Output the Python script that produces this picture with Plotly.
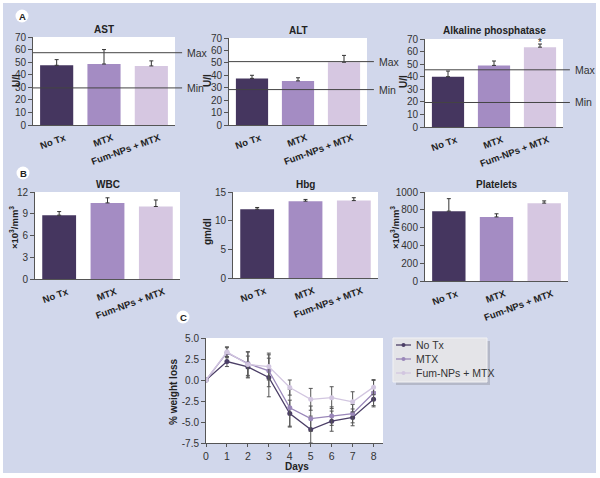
import plotly.graph_objects as go

W, H = 600, 478

groups = ["No Tx", "MTX", "Fum-NPs + MTX"]
bar_colors = ["#45365f", "#a48cc3", "#d6c7e1"]

# panel A (U/l): mean and top of error bar
ast_mean = [47.5, 48.5, 47.0]
ast_top = [52.0, 60.0, 51.0]
alt_mean = [37.5, 35.5, 50.5]
alt_top = [40.0, 38.0, 56.0]
alp_mean = [40.0, 49.0, 63.5]
alp_top = [44.5, 52.5, 66.0]
ref_max = [57.5, 51.0, 45.5]
ref_min = [29.5, 28.5, 19.5]

# panel B
wbc_mean = [8.8, 10.5, 10.0]
wbc_top = [9.3, 11.2, 10.9]
hbg_mean = [12.0, 13.4, 13.5]
hbg_top = [12.3, 13.7, 14.0]
plt_mean = [785, 720, 875]
plt_top = [925, 755, 900]

# panel C: % weight loss over days
days = [0, 1, 2, 3, 4, 5, 6, 7, 8]
w_notx = [0.0, 2.2, 1.55, 0.3, -4.0, -5.9, -4.9, -4.45, -2.3]
w_mtx = [0.0, 3.25, 1.95, 1.1, -3.3, -4.6, -4.3, -4.0, -1.55]
w_fum = [0.0, 3.35, 1.85, 1.6, -0.9, -2.3, -2.1, -2.6, -0.85]
e_notx = [0.1, 0.6, 1.3, 2.3, 1.6, 1.6, 1.2, 1.0, 0.9]
e_mtx = [0.1, 0.6, 1.4, 1.9, 2.2, 1.5, 1.1, 1.1, 1.5]
e_fum = [0.1, 0.6, 1.5, 1.6, 0.9, 1.3, 1.3, 1.2, 0.9]
line_colors = ["#4b3e66", "#9a87b9", "#d2c6e0"]

BG = "#d1d7eb"
AX = "#555555"
FONT = "Liberation Sans"


def px(a, b):
    return [a / W, b / W]


def py(top, bot):
    return [1 - bot / H, 1 - top / H]


def note(text, x, y, size=10, color="#222222", **kw):
    # plain centred text placed in page pixels
    d = dict(text=text, xref="paper", yref="paper", x=x / W, y=1 - y / H,
             xanchor="center", yanchor="middle", showarrow=False,
             font=dict(family=FONT, size=size, color=color))
    d.update(kw)
    return d


fig = go.Figure()

bar_panels = [
    # name, mean, top, x px, y px, y range, dtick, ylabel, label pos
    ("AST", ast_mean, ast_top, (33, 175), (37, 125), [0, 70], 10, "U/l", (17, 81)),
    ("ALT", alt_mean, alt_top, (229, 367), (38, 125), [0, 70], 10, "U/l", (208, 81)),
    ("Alkaline phosphatase", alp_mean, alp_top, (425, 563), (39, 127), [0, 70], 10, "U/l", (404, 82)),
    ("WBC", wbc_mean, wbc_top, (35, 180), (192, 279), [0, 12], 3, "×10<sup>3</sup>/mm<sup>3</sup>", (14, 228)),
    ("Hbg", hbg_mean, hbg_top, (233, 378), (192, 278), [0, 15], 5, "gm/dl", (208, 232)),
    ("Platelets", plt_mean, plt_top, (425, 568), (192, 281), [0, 1000], 200, "×10<sup>3</sup>/mm<sup>3</sup>", (395, 228)),
]

annotations = []
shapes = []
layout_axes = {}

for i, (name, mean, top, xp, yp, yr, dt, ylab, lp) in enumerate(bar_panels, 1):
    xa = "x" if i == 1 else f"x{i}"
    ya = "y" if i == 1 else f"y{i}"
    fig.add_trace(go.Bar(
        x=groups, y=mean, marker=dict(color=bar_colors, line=dict(width=0)),
        error_y=dict(type="data", symmetric=False,
                     array=[t - m for t, m in zip(top, mean)],
                     arrayminus=[0, 0, 0], color="#333333", thickness=1, width=2),
        xaxis=xa, yaxis=ya, showlegend=False,
    ))
    layout_axes[f"xaxis{i}"] = dict(
        domain=px(*xp), anchor=ya, showline=True, linecolor=AX, linewidth=1,
        ticks="", tickangle=-20, showgrid=False, ticklabelshift=8,
        ticklabelstandoff=3,
        tickfont=dict(family=FONT, size=9.5, color="#222222", weight="bold"),
    )
    layout_axes[f"yaxis{i}"] = dict(
        domain=py(*yp), anchor=xa, range=yr, dtick=dt, showline=True,
        linecolor=AX, linewidth=1, ticks="outside", ticklen=4, tickcolor=AX,
        showgrid=False, zeroline=False,
        tickfont=dict(family=FONT, size=10, color="#333333"),
    )
    annotations.append(note(f"<b>{name}</b>", (xp[0] + xp[1]) / 2, yp[0] - 8))
    annotations.append(note(f"<b>{ylab}</b>", lp[0], lp[1],
                            size=9.5 if "10" in ylab else 10, textangle=-90))
    if i <= 3:
        for val, lab in ((ref_max[i - 1], "Max"), (ref_min[i - 1], "Min")):
            shapes.append(dict(
                type="line", xref=f"{xa} domain", yref=ya, x0=0, x1=1.05,
                y0=val, y1=val, line=dict(color="#444444", width=1), layer="above",
            ))
            annotations.append(dict(
                text=lab, xref=f"{xa} domain", yref=ya, x=1.07, y=val,
                xanchor="left", yanchor="middle", showarrow=False,
                font=dict(family=FONT, size=10.5, color="#333333"),
            ))

annotations.append(dict(
    text="*", xref="x3", yref="y3", x=groups[2], y=alp_top[2] + 1.5,
    xanchor="center", yanchor="middle",
    showarrow=False, font=dict(family=FONT, size=10, color="#222222"),
))

# panel C
for name, ys, es, col in ((groups[0], w_notx, e_notx, line_colors[0]),
                          (groups[1], w_mtx, e_mtx, line_colors[1]),
                          (groups[2], w_fum, e_fum, line_colors[2])):
    fig.add_trace(go.Scatter(
        x=days, y=ys, mode="lines+markers", name=name,
        line=dict(color=col, width=1.3), marker=dict(color=col, size=5),
        error_y=dict(type="data", array=es, color="#555555", thickness=1, width=2),
        xaxis="x7", yaxis="y7", showlegend=False,
    ))

layout_axes["xaxis7"] = dict(
    domain=px(206, 383), anchor="y7", range=[0, 8.45], dtick=1,
    showline=True, linecolor=AX, ticks="outside", ticklen=3, tickcolor=AX,
    showgrid=False, zeroline=False,
    tickfont=dict(family=FONT, size=10.5, color="#333333"),
)
wy_ticks = [-7.5, -5.0, -2.5, 0.0, 2.5, 5.0]
layout_axes["yaxis7"] = dict(
    domain=py(338, 443), anchor="x7", range=[-7.5, 5.0],
    tickvals=wy_ticks, ticktext=[f"{v:.1f}" for v in wy_ticks],
    showline=True, linecolor=AX, ticks="outside", ticklen=4, tickcolor=AX,
    showgrid=False, zeroline=False,
    tickfont=dict(family=FONT, size=10, color="#333333"),
)
annotations.append(note("<b>% weight loss</b>", 173, 392, textangle=-90))
annotations.append(note("<b>Days</b>", 297, 466))

# panel letters
for lab, cx, cy in (("A", 22, 16), ("B", 23, 173), ("C", 183, 317)):
    shapes.append(dict(type="circle", xref="paper", yref="paper",
                       x0=(cx - 6.5) / W, x1=(cx + 6.5) / W,
                       y0=1 - (cy + 6.5) / H, y1=1 - (cy - 6.5) / H,
                       fillcolor="white", line=dict(width=0)))
    annotations.append(note(f"<b>{lab}</b>", cx, cy + 0.5, size=9.5))

# legend box with shadow, keys drawn next to the group names
shapes.append(dict(type="rect", xref="paper", yref="paper",
                   x0=396 / W, x1=490 / W, y0=1 - 385 / H, y1=1 - 341 / H,
                   fillcolor="#b4b8c8", line=dict(width=0), layer="below"))
shapes.append(dict(type="rect", xref="paper", yref="paper",
                   x0=393 / W, x1=487 / W, y0=1 - 382 / H, y1=1 - 338 / H,
                   fillcolor="#e4e4e8", line=dict(color="#f2f2f4", width=1), layer="below"))
for k, (name, col) in enumerate(zip(groups, line_colors)):
    ry = 345 + 14 * k
    shapes.append(dict(type="line", xref="paper", yref="paper",
                       x0=396 / W, x1=411 / W, y0=1 - ry / H, y1=1 - ry / H,
                       line=dict(color=col, width=1.3)))
    shapes.append(dict(type="circle", xref="paper", yref="paper",
                       x0=401.5 / W, x1=405.5 / W, y0=1 - (ry + 2) / H, y1=1 - (ry - 2) / H,
                       fillcolor=col, line=dict(width=0)))
    annotations.append(note(name, 414, ry, size=10.5, color="#333333", xanchor="left"))

# white border round the panel
for x0, x1, y0, y1 in ((0, 3, 0, H), (596, W, 0, H), (0, W, 0, 3), (0, W, 473, H)):
    shapes.append(dict(type="rect", xref="paper", yref="paper",
                       x0=x0 / W, x1=x1 / W, y0=1 - y1 / H, y1=1 - y0 / H,
                       fillcolor="white", line=dict(width=0), layer="above"))

fig.update_layout(
    width=W, height=H, margin=dict(l=0, r=0, t=0, b=0, autoexpand=False),
    paper_bgcolor=BG, plot_bgcolor="white",
    font=dict(family=FONT, size=10, color="#333333"),
    bargap=0.3,
    showlegend=False,
    annotations=annotations, shapes=shapes,
    **layout_axes,
)

fig.write_html("out.html", config={"displayModeBar": False},
               post_script="document.body.style.margin='0';")
